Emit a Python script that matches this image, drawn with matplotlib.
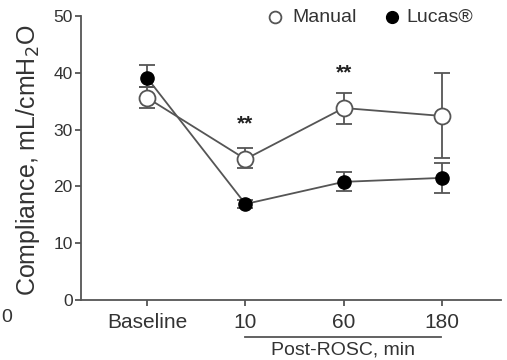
import matplotlib.pyplot as plt
import numpy as np

plt.rcParams['font.family'] = ['Liberation Sans', 'DejaVu Sans']

labels = ["Baseline", "10", "60", "180"]
manual = [35.6, 24.8, 33.8, 32.4]
manual_lo = [33.8, 23.2, 31.0, 25.0]
manual_hi = [37.5, 26.7, 36.5, 40.0]
lucas = [39.1, 16.9, 20.8, 21.5]
lucas_lo = [37.5, 16.2, 19.2, 18.9]
lucas_hi = [41.4, 17.6, 22.5, 24.1]
stars = {1: 31.0, 2: 40.0}

gray = '#555555'
txt = '#333333'
x = np.arange(len(labels))

fig = plt.figure(figsize=(5.07, 3.6), dpi=100)
ax = fig.add_axes([81/507, 60/360, 420/507, 284/360])

m = np.array(manual)
l = np.array(lucas)
ax.errorbar(x, l, yerr=[l - np.array(lucas_lo), np.array(lucas_hi) - l],
            color=gray, lw=1.3, capsize=6, capthick=1.3,
            marker='o', ms=9.5, mfc='black', mec='black', zorder=3)
ax.errorbar(x, m, yerr=[m - np.array(manual_lo), np.array(manual_hi) - m],
            color=gray, lw=1.3, capsize=6, capthick=1.3,
            marker='o', ms=11.5, mfc='white', mec=gray, mew=1.3, zorder=4)

for k, v in stars.items():
    ax.text(x[k], v, "**", ha='center', va='center', fontsize=15,
            fontweight='bold', color='#222222')

ax.set_xlim(-0.673, 3.6)
ax.set_ylim(0, 50)
ax.set_yticks([0, 10, 20, 30, 40, 50])
ax.set_xticks(x)
ax.set_xticklabels(labels)
for s in ['top', 'right']:
    ax.spines[s].set_visible(False)
for s in ['left', 'bottom']:
    ax.spines[s].set_color(gray)
    ax.spines[s].set_linewidth(1.3)
ax.tick_params(colors=gray, labelcolor=txt, width=1.3, length=4)
ax.tick_params(axis='y', labelsize=12.5, pad=2)
ax.tick_params(axis='x', labelsize=15, pad=5)
ax.set_ylabel("Compliance, mL/cmH$_2$O", fontsize=18, color=txt)
ax.yaxis.set_label_coords(-(81 - 42) / 420, (300 - 160) / 284)

# Post-ROSC bracket under the time points
fig.add_artist(plt.Line2D([245/507, 441/507], [1 - 337/360, 1 - 337/360],
                          color=gray, lw=1.3))
fig.text(343/507, 1 - 350/360, "Post-ROSC, min", ha='center', va='center',
         fontsize=14, color=txt)

# legend
fig.add_artist(plt.Line2D([275/507], [1 - 17/360], marker='o', ms=8.5,
                          mfc='white', mec=gray, mew=1.3, ls='none'))
fig.add_artist(plt.Line2D([392/507], [1 - 17/360], marker='o', ms=8.5,
                          mfc='black', mec='black', ls='none'))
fig.text(292/507, 1 - 17/360, "Manual", ha='left', va='center',
         fontsize=14, color=txt)
fig.text(406/507, 1 - 17/360, "Lucas\u00ae", ha='left', va='center',
         fontsize=14, color=txt)

# fragment of the neighbouring panel
fig.text(1/507, 1 - 318/360, "0", ha='left', va='center', fontsize=14, color=txt)

fig.savefig("out.png", dpi=100, facecolor='white')
